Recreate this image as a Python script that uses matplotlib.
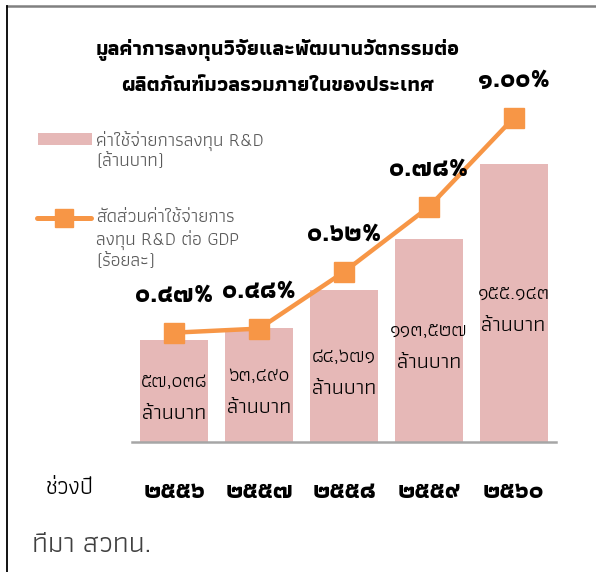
import matplotlib
matplotlib.use("Agg")
import matplotlib.pyplot as plt
import matplotlib.font_manager as fm
from matplotlib.ft2font import FT2Font
from matplotlib.lines import Line2D
from matplotlib.patches import Rectangle

# ---------------- data ----------------
years = ["๒๕๕๖", "๒๕๕๗", "๒๕๕๘", "๒๕๕๙", "๒๕๖๐"]
spending = [57038, 63490, 84671, 113527, 155143]
spending_labels = ["๕๗,๐๓๘", "๖๓,๔๙๐", "๘๔,๖๗๑", "๑๑๓,๕๒๗", "๑๕๕.๑๔๓"]
ratio = [0.47, 0.48, 0.62, 0.78, 1.00]
ratio_labels = ["๐.๔๗%", "๐.๔๘%", "๐.๖๒%", "๐.๗๘%", "๑.๐๐%"]
unit_label = "ล้านบาท"
title_lines = ["มูลค่าการลงทุนวิจัยและพัฒนานวัตกรรมต่อ", "ผลิตภัณฑ์มวลรวมภายในของประเทศ"]
legend_bar = "ค่าใช้จ่ายการลงทุน R&D\n(ล้านบาท)"
legend_line = "สัดส่วนค่าใช้จ่ายการ\nลงทุน R&D ต่อ GDP\n(ร้อยละ)"
xlabel = "ช่วงปี"
source = "ทีมา สวทน."

# ---------------- font discovery (Thai) ----------------
cands = {}
for f in fm.fontManager.ttflist:
    try:
        cm = FT2Font(f.fname).get_charmap()
        if ord("ก") in cm and ord("๑") in cm:
            w = f.weight if isinstance(f.weight, int) else (700 if "bold" in str(f.weight).lower() else 400)
            cands.setdefault(f.name, set()).add(w)
    except Exception:
        pass
thai_font = None
if cands:
    with_bold = sorted(n for n, ws in cands.items() if any(w >= 600 for w in ws) and any(w < 600 for w in ws))
    thai_font = with_bold[0] if with_bold else sorted(cands)[0]
families = ([thai_font] if thai_font else []) + ["DejaVu Sans"]
plt.rcParams["font.family"] = families

W, H = 596, 572
fig = plt.figure(figsize=(W / 100, H / 100), dpi=100)
fig.patch.set_facecolor("white")

def fx(x):
    return x / W

def fy(y):
    return 1 - y / H

# axes geometry
ax_left, ax_right, ax_bottom, ax_top = 132, 556, 442, 101
ax = fig.add_axes([fx(ax_left), fy(ax_bottom), (ax_right - ax_left) / W, (ax_bottom - ax_top) / H])
ax2 = ax.twinx()

x = list(range(len(years)))
bar_color = "#E6B8B7"
line_color = "#F79646"

bars = ax.bar(x, spending, width=0.8, color=bar_color, zorder=2)
ax.set_xlim(-0.5, len(years) - 0.5)
ax.set_ylim(0, 155143 * (ax_bottom - ax_top) / 278)

ax2.plot(x, ratio, color=line_color, lw=3.2, marker="s", markersize=14.5,
         markerfacecolor=line_color, markeredgecolor=line_color, zorder=3,
         solid_capstyle="round")
ax2.set_ylim(0.2, 0.2 + (ax_bottom - ax_top) / 405)

for a in (ax, ax2):
    for s in ("top", "right", "left", "bottom"):
        a.spines[s].set_visible(False)
    a.tick_params(left=False, right=False, labelleft=False, labelright=False)
ax.spines["bottom"].set_visible(True)
ax.spines["bottom"].set_color("#A6A6A6")
ax.spines["bottom"].set_linewidth(1.8)
ax.set_xticks(x)
ax.set_xticklabels(years, fontsize=18, fontweight="bold", color="black")
ax.tick_params(axis="x", length=0, pad=28)
ax2.tick_params(axis="x", length=0)

# bar labels
for i, (v, lab) in enumerate(zip(spending, spending_labels)):
    ax.annotate(lab, (i, v / 2), xytext=(0, 0), textcoords="offset points",
                ha="center", va="bottom", fontsize=14.5, color="black")
    ax.annotate(unit_label, (i, v / 2), xytext=(0, -10), textcoords="offset points",
                ha="center", va="top", fontsize=15.5, color="black")

# ratio labels
for i, (v, lab) in enumerate(zip(ratio, ratio_labels)):
    ax2.annotate(lab, (i, v), xytext=(0, 27), textcoords="offset points",
                 ha="center", va="center", fontsize=18.5, fontweight="bold", color="black")

# title
fig.text(fx(278), fy(50), title_lines[0], ha="center", va="center", fontsize=15,
         fontweight="bold", color="black")
fig.text(fx(278), fy(86), title_lines[1], ha="center", va="center", fontsize=15,
         fontweight="bold", color="black")

# legend (manual)
fig.add_artist(Rectangle((fx(38), fy(145)), (92 - 38) / W, 12 / H, transform=fig.transFigure,
                         facecolor=bar_color, edgecolor="none"))
lb = legend_bar.split("\n")
fig.text(fx(96), fy(141), lb[0], ha="left", va="center", fontsize=13.5, color="#595959")
fig.text(fx(96), fy(162), lb[1], ha="left", va="center", fontsize=13.5, color="#595959")
fig.add_artist(Line2D([fx(37), fx(91)], [fy(218), fy(218)], transform=fig.transFigure,
                      color=line_color, lw=3.6, solid_capstyle="round"))
fig.add_artist(Line2D([fx(64)], [fy(218)], transform=fig.transFigure, color=line_color,
                      marker="s", markersize=13, lw=0))
leg2 = legend_line.split("\n")
for k, t in enumerate(leg2):
    fig.text(fx(96), fy(218 + 22 * k), t, ha="left", va="center", fontsize=13.5, color="#595959")

# x label
fig.text(fx(70), fy(489), xlabel, ha="center", va="center", fontsize=17, color="black")

# source
fig.text(fx(32), fy(545), source, ha="left", va="center", fontsize=20.5, color="#404040")

# frame lines
fig.add_artist(Line2D([fx(7), 1], [fy(6), fy(6)], transform=fig.transFigure, color="#808080", lw=1.8))
fig.add_artist(Line2D([fx(7.5), fx(7.5)], [fy(6), 0], transform=fig.transFigure, color="black", lw=1.3))

fig.savefig("out.png", dpi=100, facecolor="white")
